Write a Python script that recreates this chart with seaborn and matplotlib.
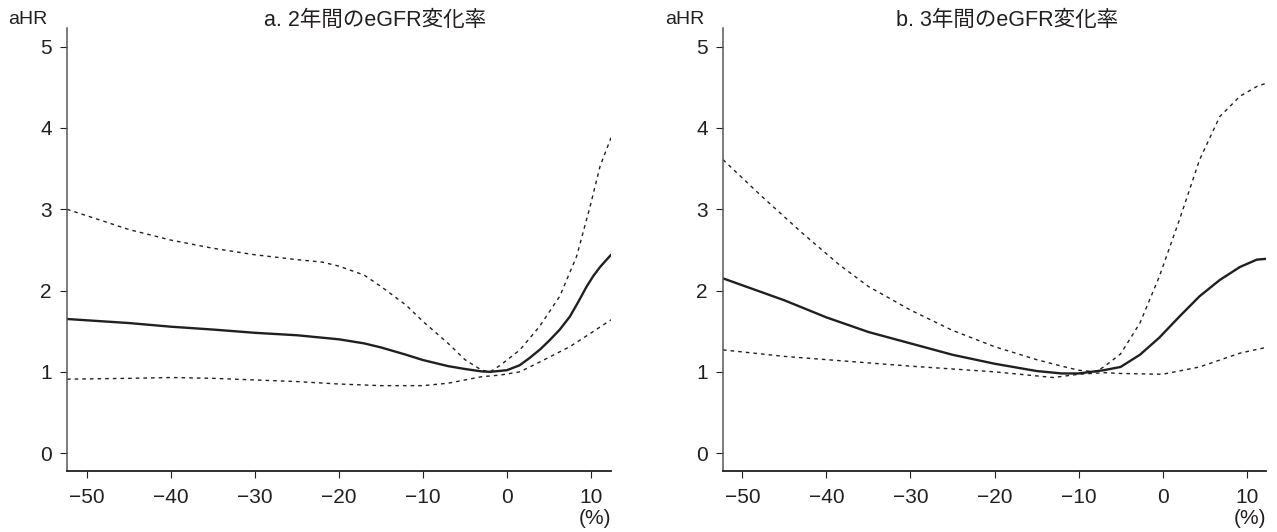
import matplotlib
matplotlib.use("Agg")
import matplotlib.pyplot as plt
import seaborn as sns

# panel a: 2-year eGFR change (%) vs adjusted HR
a_x = [-52.4, -45, -40, -35, -30, -25, -20, -17, -15, -12, -10, -7, -5, -3, -2, 0, 1.5, 2.7, 4, 5.1, 6.3, 7.5, 8.5, 9.5, 10.3, 11.1, 12.4]
a_hr = [1.65, 1.60, 1.555, 1.52, 1.48, 1.45, 1.40, 1.35, 1.30, 1.21, 1.145, 1.07, 1.035, 1.005, 1.0, 1.02, 1.08, 1.17, 1.28, 1.39, 1.52, 1.68, 1.86, 2.05, 2.18, 2.29, 2.44]
a_hi_x = [-52.4, -45, -40, -35, -30, -25, -22, -20, -17, -15, -12, -10, -7, -5, -3, -2, -0.8, 1.55, 3.9, 6.3, 8.3, 9.9, 11.1, 12.4]
a_hi = [3.0, 2.75, 2.62, 2.52, 2.44, 2.38, 2.35, 2.30, 2.19, 2.05, 1.82, 1.62, 1.35, 1.15, 1.02, 1.0, 1.08, 1.27, 1.56, 1.93, 2.42, 3.03, 3.53, 3.88]
a_lo_x = [-52.4, -45, -40, -35, -30, -25, -20, -15, -10, -7, -5, -3, -0.8, 1.55, 3.9, 7.5, 9.9, 12.4]
a_lo = [0.91, 0.92, 0.93, 0.92, 0.90, 0.88, 0.85, 0.83, 0.83, 0.86, 0.90, 0.94, 0.96, 1.00, 1.12, 1.31, 1.47, 1.64]

# panel b: 3-year eGFR change
b_x = [-52.3, -45, -40, -35, -30, -25, -20, -15, -12, -10, -7, -5, -2.7, -0.4, 2.0, 4.4, 6.8, 9.2, 11.2, 12.3]
b_hr = [2.15, 1.88, 1.67, 1.49, 1.35, 1.21, 1.10, 1.01, 0.98, 0.98, 1.02, 1.06, 1.21, 1.42, 1.68, 1.93, 2.13, 2.29, 2.38, 2.39]
b_hi_x = [-52.3, -47.7, -42.9, -38.5, -35, -30, -25, -20, -15, -12, -10, -8, -7, -5, -2.7, -0.4, 2.0, 4.4, 6.8, 9.2, 11.2, 12.3]
b_hi = [3.61, 3.16, 2.71, 2.32, 2.05, 1.76, 1.51, 1.31, 1.15, 1.07, 1.02, 1.0, 1.06, 1.22, 1.60, 2.17, 2.87, 3.61, 4.14, 4.39, 4.51, 4.55]
b_lo_x = [-52.3, -45, -40, -30, -20, -15, -13, -10, -7, -5, 0, 4.4, 9.2, 12.3]
b_lo = [1.27, 1.19, 1.15, 1.07, 1.00, 0.95, 0.93, 0.97, 0.99, 0.98, 0.97, 1.06, 1.23, 1.30]

titles = ["a. 2年間のeGFR変化率", "b. 3年間のeGFR変化率"]
x_ticks = [-50, -40, -30, -20, -10, 0, 10]
y_ticks = [0, 1, 2, 3, 4, 5]

sns.set_style("ticks")
plt.rcParams["font.family"] = ["Liberation Sans", "Noto Sans CJK JP"]
plt.rcParams["axes.unicode_minus"] = True

ink = "#231f20"
W, H = 1277, 532
fig = plt.figure(figsize=(W / 100, H / 100), dpi=100)

panels = [
    (67, 611, a_x, a_hr, a_hi_x, a_hi, a_lo_x, a_lo, (-52.4, 12.4), 8, 375),
    (723, 1266, b_x, b_hr, b_hi_x, b_hi, b_lo_x, b_lo, (-52.3, 12.3), 665, 1007),
]

for i, (x0, x1, xs, ys, hx, hy, lx, ly, xlim, lab_x, tit_x) in enumerate(panels):
    ax = fig.add_axes([x0 / W, 1 - 471 / H, (x1 - x0) / W, (471 - 28) / H])
    sns.lineplot(x=hx, y=hy, ax=ax, color=ink, linewidth=1.0, linestyle=(0, (2.6, 2.9)),
                 estimator=None, sort=False)
    sns.lineplot(x=lx, y=ly, ax=ax, color=ink, linewidth=1.0, linestyle=(0, (2.6, 2.9)),
                 estimator=None, sort=False)
    sns.lineplot(x=xs, y=ys, ax=ax, color=ink, linewidth=1.7, estimator=None, sort=False)

    ax.set_xlim(*xlim)
    ax.set_ylim(-0.22, 5.23)
    ax.set_xticks(x_ticks)
    ax.set_yticks(y_ticks)
    ax.set_xlabel("")
    ax.set_ylabel("")
    sns.despine(ax=ax)
    ax.spines["left"].set_color("#5a5657")
    ax.spines["bottom"].set_color(ink)
    ax.spines["left"].set_linewidth(1.1)
    ax.spines["bottom"].set_linewidth(1.3)
    ax.tick_params(length=5, width=0.8, labelsize=15, pad=6, colors=ink)
    ax.tick_params(axis="x", pad=7)

    fig.text(lab_x / W, 1 - 20 / H, "aHR", fontsize=14, color=ink, ha="left", va="center")
    fig.text(tit_x / W, 1 - 20 / H, titles[i], fontsize=15.5, color=ink, ha="center", va="center")
    fig.text(x1 / W, 1 - 518 / H, "(%)", fontsize=15, color=ink, ha="right", va="center")

fig.savefig("out.png", dpi=100)
